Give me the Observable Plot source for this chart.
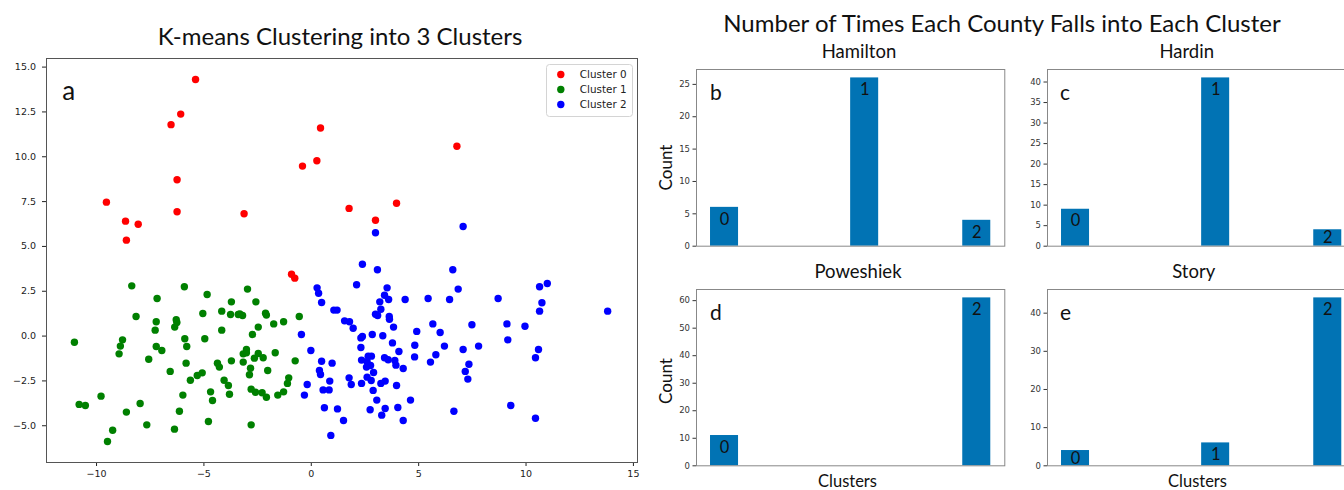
<!DOCTYPE html>
<html><head><meta charset="utf-8">
<script src="https://cdn.jsdelivr.net/npm/d3@7"></script>
<script src="https://cdn.jsdelivr.net/npm/@observablehq/plot@0.6"></script>
<style>
html,body{margin:0;padding:0;background:#fff;overflow:hidden;}
#root{position:relative;width:1344px;height:490px;overflow:hidden;background:#fff;}
.panel{position:absolute;}
.panel svg{overflow:visible;max-width:none !important;}
</style></head><body><div id="root"></div>
<script>
// ---------- Scatter data ----------
const clusterNames = ["Cluster 0", "Cluster 1", "Cluster 2"];
const clusterColors = ["#ff0000", "#008000", "#0000ff"];

const cluster0X = [-5.39,-6.08,-6.53,0.43,0.26,-0.41,-6.25,-9.54,1.76,-6.25,-3.13,-8.65,-8.06,-8.61,6.78,3.97,2.99,-0.92,-0.77];
const cluster0Y = [14.31,12.38,11.79,11.6,9.78,9.48,8.72,7.47,7.12,6.93,6.82,6.41,6.24,5.35,10.59,7.41,6.46,3.45,3.23];

const cluster1X = [-8.36,-5.91,-2.97,-4.85,-7.18,-3.72,-2.58,-8.16,-7.22,-7.27,-6.29,-6.26,-6.36,-5.05,-4.17,-3.76,-3.40,-3.33,-3.20,-2.13,-2.09,-1.75,-1.29,-0.56,-2.47,-2.74,-4.17,-5.89,-5.80,-4.96,-11.03,-8.79,-8.89,-8.95,-7.22,-6.96,-7.57,-6.57,-5.83,-5.63,-5.31,-5.08,-4.37,-4.28,-3.72,-3.17,-3.17,-3.02,-3.02,-2.65,-2.47,-2.24,-1.68,-2.83,-2.88,-2.03,-0.75,-4.06,-3.86,-3.81,-4.69,-4.60,-5.98,-6.14,-2.80,-2.60,-2.29,-2.09,-1.56,-1.29,-1.11,-1.05,-9.79,-10.81,-10.52,-8.61,-7.97,-9.25,-9.49,-7.66,-6.37,-4.79,-2.80];
const cluster1Y = [2.80,2.75,2.62,2.32,2.10,1.91,1.91,1.09,0.80,0.33,0.91,0.76,0.50,1.26,1.39,1.20,1.20,1.24,1.15,1.28,1.17,0.68,0.80,1.09,0.50,0.09,0.33,-0.15,-0.58,-0.15,-0.34,-0.21,-0.56,-0.99,-0.58,-0.80,-1.29,-1.97,-1.51,-2.46,-2.20,-2.05,-1.51,-1.73,-1.38,-1.45,-0.99,-0.75,-0.93,-1.23,-0.97,-1.21,-0.93,-1.79,-2.16,-1.92,-1.38,-2.46,-2.76,-3.24,-3.11,-3.59,-3.29,-4.19,-2.96,-3.13,-3.16,-3.41,-3.29,-3.11,-2.64,-2.33,-3.35,-3.81,-3.87,-4.24,-3.76,-5.25,-5.88,-4.95,-5.19,-4.76,-4.95];

const cluster2X = [2.38,2.99,7.07,3.08,6.59,2.11,0.27,0.34,0.48,3.53,3.41,3.60,3.19,3.24,2.99,3.09,3.63,3.64,4.37,5.44,6.44,6.84,8.70,10.63,10.99,10.74,10.63,13.80,1.05,1.20,1.55,1.78,1.95,3.83,2.84,3.33,2.38,2.31,3.78,2.31,4.08,4.91,5.66,6.00,7.48,9.11,9.95,9.15,4.82,6.20,7.07,7.79,10.58,10.44,4.81,5.80,5.55,7.34,7.17,7.29,3.41,3.58,3.89,3.94,4.28,2.34,2.65,2.80,2.60,2.76,2.57,2.90,2.60,2.79,2.88,2.34,3.24,3.44,3.97,3.05,2.74,3.44,3.28,4.03,4.62,4.28,6.64,9.29,10.44,1.76,1.86,0.97,0.48,0.38,0.43,0.86,-0.02,-0.19,-0.32,0.55,0.83,0.61,1.22,1.50,0.91,-0.46];
const cluster2Y = [4.01,5.76,6.11,3.70,3.70,2.86,2.69,2.39,1.87,2.69,2.28,2.04,1.91,1.50,1.22,1.15,1.09,0.94,2.04,2.10,2.04,2.62,2.10,2.75,2.93,1.86,1.39,1.39,1.45,1.45,0.85,0.80,0.44,0.50,0.09,0.02,-0.02,-0.10,-0.38,-0.64,-0.86,0.26,0.68,0.20,0.63,0.68,0.55,-0.21,-0.51,-0.56,-0.75,-0.56,-0.75,-1.21,-1.16,-1.04,-1.45,-1.57,-1.97,-2.40,-1.21,-1.32,-1.36,-1.62,-1.81,-1.34,-1.12,-1.12,-1.43,-1.64,-1.73,-2.03,-2.29,-2.48,-3.03,-2.64,-2.64,-2.51,-2.76,-3.57,-4.11,-4.04,-4.41,-3.98,-3.57,-4.71,-4.19,-3.87,-4.58,-2.33,-2.70,-1.51,-1.40,-1.92,-2.14,-2.51,-0.80,-2.70,-3.29,-3.00,-3.00,-4.00,-4.06,-4.71,-5.54,0.09];

const scatterXTicks = [-10, -5, 0, 5, 10, 15];
const scatterYTicks = [-5, -2.5, 0, 2.5, 5, 7.5, 10, 12.5, 15];

// ---------- Histogram data ----------
const counties = ["Hamilton", "Hardin", "Poweshiek", "Story"];
const panelLetters = ["b", "c", "d", "e"];
const clusterIds = [0, 1, 2];
const binStart = [0.0, 1.0, 1.8];
const binEnd = [0.2, 1.2, 2.0];
const hamiltonCounts = [6, 26, 4];
const hardinCounts = [9, 41, 4];
const poweshiekCounts = [11, 0, 61];
const storyCounts = [4, 6, 44];
const hamiltonTicks = [0, 5, 10, 15, 20, 25];
const hardinTicks = [0, 5, 10, 15, 20, 25, 30, 35, 40];
const poweshiekTicks = [0, 10, 20, 30, 40, 50, 60];
const storyTicks = [0, 10, 20, 30, 40];

const root = document.getElementById("root");
function place(node, left, top, w, h) {
  const d = document.createElement("div");
  d.className = "panel";
  d.style.left = left + "px";
  d.style.top = top + "px";
  d.style.width = w + "px";
  d.style.height = h + "px";
  d.appendChild(node);
  root.appendChild(d);
}

// ---------- Scatter ----------
const points = [
  ...cluster0X.map((x, i) => ({x, y: cluster0Y[i], cluster: clusterNames[0]})),
  ...cluster1X.map((x, i) => ({x, y: cluster1Y[i], cluster: clusterNames[1]})),
  ...cluster2X.map((x, i) => ({x, y: cluster2Y[i], cluster: clusterNames[2]}))
];

const scatter = Plot.plot({
  width: 660, height: 490,
  marginLeft: 46, marginRight: 23, marginTop: 58, marginBottom: 28,
  x: {domain: [-12.33, 15.19], ticks: scatterXTicks, tickSize: 4, tickPadding: 4, label: null},
  y: {domain: [-7.05, 15.48], ticks: scatterYTicks, tickSize: 4, tickPadding: 6.5, tickFormat: d3.format(".1f"), label: null},
  color: {domain: clusterNames, range: clusterColors},
  style: {fontFamily: "DejaVu Sans", fontSize: "9.5px", color: "#222", background: "transparent", maxWidth: "none"},
  marks: [
    Plot.dot(points, {x: "x", y: "y", fill: "cluster", r: 3.7, stroke: "none"}),
    Plot.frame({stroke: "#555"})
  ]
});
place(scatter, 0, 0, 660, 490);

// legend
const legend = Plot.plot({
  width: 86, height: 52, margin: 0,
  y: {type: "point", domain: clusterNames, range: [9.7, 41.3], padding: 0, axis: null},
  color: {domain: clusterNames, range: clusterColors},
  style: {fontFamily: "DejaVu Sans", fontSize: "10.4px", color: "#222", background: "transparent", maxWidth: "none"},
  marks: [
    Plot.frame({stroke: "#d4d4d4", fill: "#fff", rx: 3}),
    Plot.dot(clusterNames, {y: d => d, frameAnchor: "left", dx: 14.3, r: 3.7, fill: d => d, stroke: "none"}),
    Plot.text(clusterNames, {y: d => d, frameAnchor: "left", dx: 33.3, text: d => d, textAnchor: "start", fill: "#222"})
  ]
});
place(legend, 545.5, 64, 86, 52);

// ---------- Histograms ----------
function barPanel(counts, ticks, frameLeft, frameTop, frameH) {
  const mL = 50, mR = 16, mT = 8, mB = 6, fw = 308.3;
  const W = mL + fw + mR, H = mT + frameH + mB;
  const yMax = d3.max(counts) * 1.05;
  const rows = clusterIds.map((c, i) => ({cluster: c, x1: binStart[i], x2: binEnd[i], count: counts[i]}));
  const shown = rows.filter(d => d.count > 0);
  const isShort = d => d.count / yMax * frameH < 20;
  const labelOpts = {x: d => (d.x1 + d.x2) / 2, y: "count", text: d => String(d.cluster), lineAnchor: "top", fontFamily: "Lato", fontSize: 16.5, fill: "#111"};
  const chart = Plot.plot({
    width: W, height: H,
    marginLeft: mL, marginRight: mR, marginTop: mT, marginBottom: mB,
    x: {domain: [-0.1, 2.1], axis: null},
    y: {domain: [0, yMax], ticks, tickSize: 3.5, tickPadding: 3, label: null},
    style: {fontFamily: "DejaVu Sans", fontSize: "8.5px", color: "#333", background: "transparent", maxWidth: "none"},
    marks: [
      Plot.rect(shown, {x1: "x1", x2: "x2", y1: 0, y2: "count", fill: "#0173b4"}),
      Plot.text(shown.filter(d => !isShort(d)), {...labelOpts, dy: 5.5}),
      Plot.text(shown.filter(isShort), {...labelOpts, dy: 1.5}),
      Plot.frame({stroke: "#888"})
    ]
  });
  place(chart, frameLeft - mL, frameTop - mT, W, H);
}
barPanel(hamiltonCounts, hamiltonTicks, 696, 69, 176.7);
barPanel(hardinCounts, hardinTicks, 1046.7, 69, 176.7);
barPanel(poweshiekCounts, poweshiekTicks, 696, 288.7, 176.3);
barPanel(storyCounts, storyTicks, 1046.7, 288.7, 176.3);

// ---------- Text overlay (titles, labels) ----------
const svg = d3.select(root).append("svg")
  .attr("width", 1344).attr("height", 490)
  .style("position", "absolute").style("left", 0).style("top", 0)
  .style("pointer-events", "none")
  .attr("font-family", "Lato, 'Open Sans', sans-serif").attr("fill", "#111");

const labels = [
  {t: "K-means Clustering into 3 Clusters", x: 340, y: 45, s: 24, a: "middle"},
  {t: "Number of Times Each County Falls into Each Cluster", x: 1002, y: 31.7, s: 24, a: "middle"},
  {t: counties[0], x: 859, y: 58.3, s: 18.5, a: "middle"},
  {t: counties[1], x: 1186.7, y: 58.3, s: 18.5, a: "middle"},
  {t: counties[2], x: 858, y: 278.3, s: 18.5, a: "middle"},
  {t: counties[3], x: 1193.7, y: 278.3, s: 18.5, a: "middle"},
  {t: "Clusters", x: 847.5, y: 487, s: 16.5, a: "middle"},
  {t: "Clusters", x: 1197.5, y: 487, s: 16.5, a: "middle"},
  {t: "a", x: 62.3, y: 100, s: 26, a: "start"},
  {t: panelLetters[0], x: 710, y: 100, s: 21, a: "start"},
  {t: panelLetters[1], x: 1060, y: 100, s: 21, a: "start"},
  {t: panelLetters[2], x: 710, y: 320, s: 21, a: "start"},
  {t: panelLetters[3], x: 1060, y: 320, s: 21, a: "start"}
];
svg.selectAll("text.lab").data(labels).join("text").attr("class", "lab")
  .attr("x", d => d.x).attr("y", d => d.y)
  .attr("font-size", d => d.s).attr("text-anchor", d => d.a)
  .text(d => d.t);

[[671.7, 167.5], [671.7, 381]].forEach(([x, y]) => {
  svg.append("text")
    .attr("transform", `translate(${x},${y}) rotate(-90)`)
    .attr("font-size", 17).attr("text-anchor", "middle")
    .text("Count");
});
</script></body></html>
